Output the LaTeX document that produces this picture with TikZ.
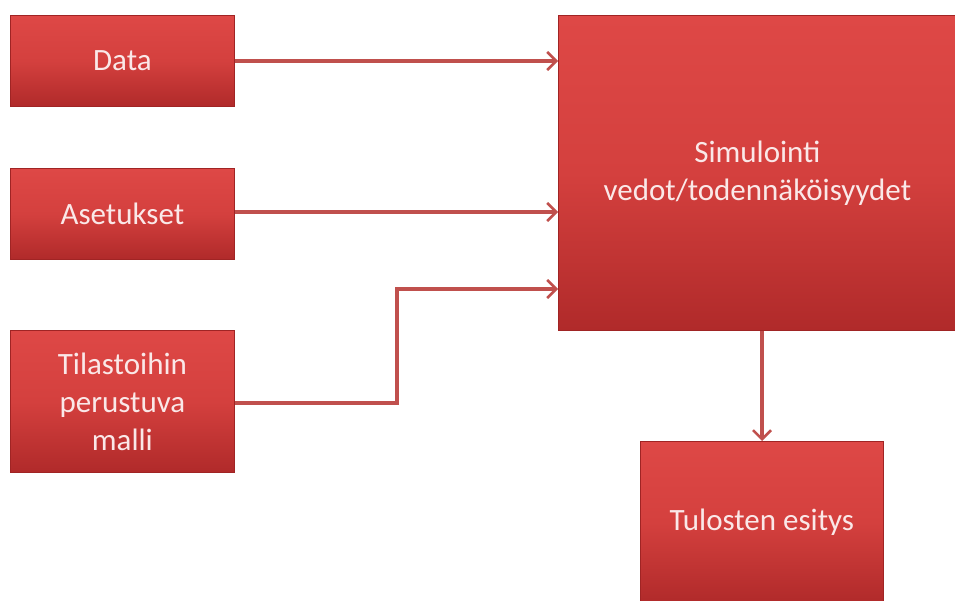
\documentclass[tikz,border=0pt]{standalone}
\usepackage{fontspec}
\setmainfont{Carlito}
\usetikzlibrary{arrows.meta,positioning}
\definecolor{boxtop}{RGB}{222,72,70}
\definecolor{boxmid}{RGB}{212,64,62}
\definecolor{boxbot}{RGB}{176,42,42}
\definecolor{boxedge}{RGB}{160,36,36}
\definecolor{linkcol}{RGB}{192,80,77}
\definecolor{txtcol}{RGB}{250,232,232}
\tikzset{
  redbox/.style={draw=boxedge, line width=0.8pt, top color=boxtop, bottom color=boxbot, middle color=boxmid,
    text=txtcol, font=\fontsize{31}{38}\selectfont, align=center, inner sep=0pt},
  link/.style={draw=linkcol, line width=3.2pt, -{Straight Barb[length=9pt,width=18pt,line width=2.6pt]}}
}
\begin{document}
\begin{tikzpicture}[x=1pt,y=-1pt]
\useasboundingbox (0,0) rectangle (955,600);
\node[redbox, minimum width=224pt, minimum height=91pt, anchor=north west] (data) at (10,15) {Data};
\node[redbox, minimum width=224pt, minimum height=91pt, anchor=north west] (aset) at (10,168) {Asetukset};
\node[redbox, minimum width=224pt, minimum height=142pt, anchor=north west] (tila) at (10,330) {Tilastoihin\\perustuva\\malli};
\node[redbox, minimum width=398pt, minimum height=315pt, anchor=north west] (sim) at (558,15) {Simulointi\\vedot/todennäköisyydet};
\node[redbox, minimum width=243pt, minimum height=162pt, anchor=north west] (tulos) at (640,441) {Tulosten esitys};
\coordinate (bend) at (397,403);
\draw[link] (data.east |- 0,61) -- (sim.west |- 0,61);
\draw[link] (aset.east |- 0,212) -- (sim.west |- 0,212);
\draw[link] (tila.east |- bend) -- (bend) -- (397,289) -- (sim.west |- 0,289);
\draw[link] (sim.south -| 762,0) -- (tulos.north -| 762,0);
\end{tikzpicture}
\end{document}
